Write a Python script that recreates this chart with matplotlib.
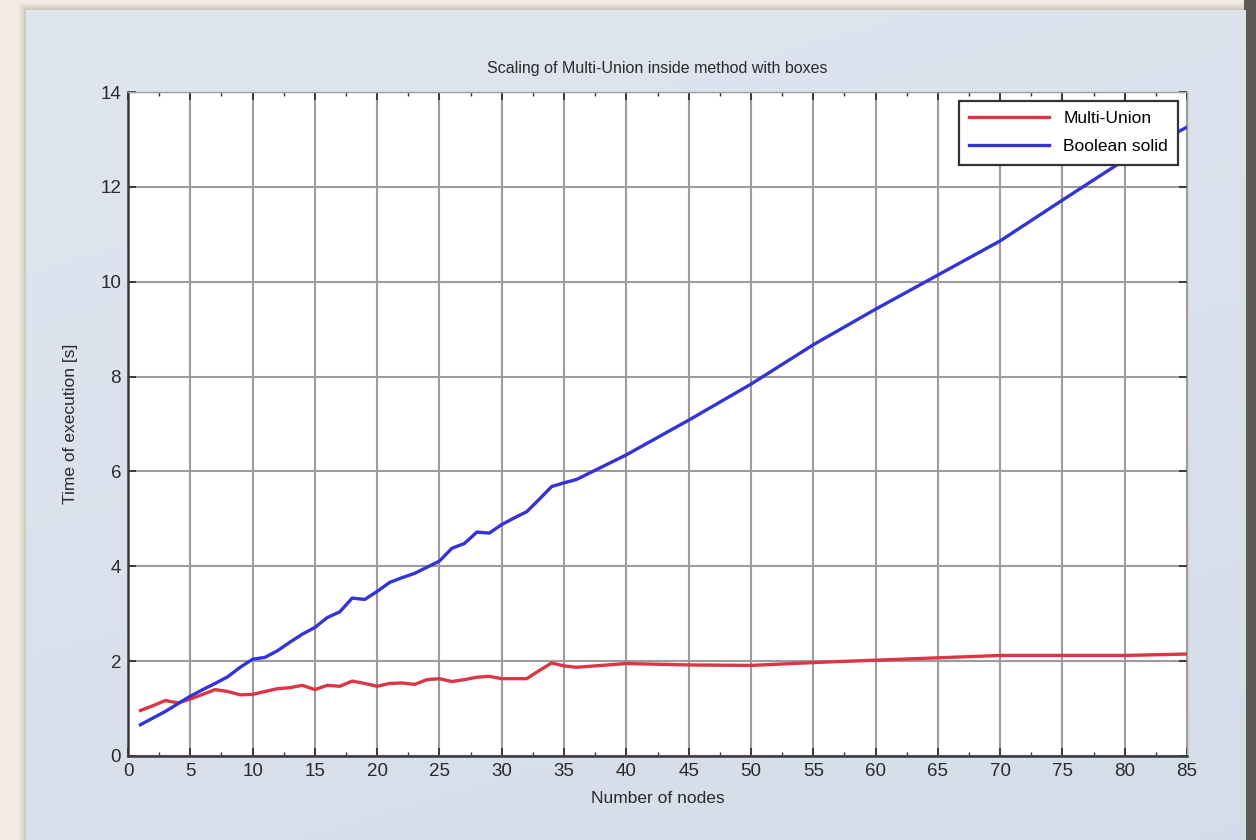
import numpy as np
import matplotlib
matplotlib.use("Agg")
import matplotlib.pyplot as plt
from matplotlib.ticker import MultipleLocator

# Benchmark timings
nodes = [1, 2, 3, 4, 5, 6, 7, 8, 9, 10, 11, 12, 13, 14, 15, 16, 17, 18, 19, 20,
         21, 22, 23, 24, 25, 26, 27, 28, 29, 30, 31, 32, 33, 34, 35, 36,
         40, 45, 50, 55, 60, 65, 70, 75, 80, 85]
multi_union = [0.96, 1.06, 1.17, 1.12, 1.20, 1.30, 1.40, 1.36, 1.29, 1.30,
               1.36, 1.42, 1.44, 1.49, 1.40, 1.49, 1.47, 1.58, 1.53, 1.47,
               1.53, 1.54, 1.51, 1.61, 1.63, 1.57, 1.61, 1.66, 1.68, 1.63,
               1.63, 1.63, 1.80, 1.96, 1.90, 1.87,
               1.95, 1.92, 1.91, 1.97, 2.02, 2.07, 2.12, 2.12, 2.12, 2.15]
boolean_solid = [0.66, 0.80, 0.94, 1.10, 1.26, 1.40, 1.53, 1.67, 1.87, 2.04,
                 2.08, 2.22, 2.40, 2.57, 2.71, 2.92, 3.04, 3.33, 3.30, 3.47,
                 3.66, 3.76, 3.85, 3.98, 4.11, 4.38, 4.48, 4.72, 4.70, 4.88,
                 5.02, 5.15, 5.41, 5.68, 5.76, 5.83,
                 6.35, 7.08, 7.84, 8.67, 9.42, 10.14, 10.86, 11.72, 12.57, 13.26]
series_names = ["Multi-Union", "Boolean solid"]
x_ticks = list(range(0, 90, 5))
y_ticks = list(range(0, 16, 2))

W, H = 1256, 840
fig = plt.figure(figsize=(W / 100, H / 100), dpi=100)
fig.patch.set_facecolor("#f2ece2")

# Backdrop: slide-like panel with soft shadow
bg = fig.add_axes([0, 0, 1, 1], zorder=-10)
bg.set_xlim(0, W)
bg.set_ylim(H, 0)
bg.axis("off")
bg.set_facecolor("none")

for i, a in enumerate(np.linspace(0.02, 0.10, 8)):
    pad = 8 - i
    bg.add_patch(plt.Rectangle((26 - pad, 10 - pad), 1222 + 2 * pad, 900,
                               facecolor=(0.35, 0.3, 0.25, a * 0.5), edgecolor="none"))
bg.add_patch(plt.Rectangle((1244, 0), 12, H, facecolor="#5e5a56", edgecolor="none"))

gy, gx = np.mgrid[0:1:200j, 0:1:200j]
top = np.array([0.878, 0.902, 0.940])
bot = np.array([0.835, 0.866, 0.915])
t = (gy * 0.7 + gx * 0.3)[..., None]
grad = top * (1 - t) + bot * t
bg.imshow(grad, extent=(26, 1246, 845, 10), aspect="auto", zorder=1)

# Main axes
ax = fig.add_axes([128 / W, 1 - 756 / H, (1187 - 128) / W, (756 - 92) / H])
ax.set_facecolor("white")

font = "Liberation Sans"
ax.plot(nodes, multi_union, color="#dc3545", lw=2.4, label=series_names[0], zorder=3)
ax.plot(nodes, boolean_solid, color="#3434d6", lw=2.4, label=series_names[1], zorder=3)

ax.set_xlim(0, 85)
ax.set_ylim(0, 14)
ax.set_xticks(x_ticks)
ax.set_yticks(y_ticks)
ax.xaxis.set_minor_locator(MultipleLocator(2.5))
ax.tick_params(which="both", direction="in", top=True, right=True,
               colors="#333333", labelcolor="#2a2a2a", labelsize=13.5, pad=5)
ax.tick_params(which="major", length=6, width=1.3)
ax.tick_params(which="minor", length=3, width=1.0)
for lbl in ax.get_xticklabels() + ax.get_yticklabels():
    lbl.set_fontfamily(font)

ax.grid(True, which="major", color="#9c9c9c", lw=1.5, ls="-")
ax.set_axisbelow(True)
for side in ["top", "right"]:
    ax.spines[side].set_color("#a0a0a0")
    ax.spines[side].set_linewidth(1.0)
for side in ["left", "bottom"]:
    ax.spines[side].set_color("#3a3a3a")
    ax.spines[side].set_linewidth(1.8)

ax.set_title("Scaling of Multi-Union inside method with boxes", fontsize=11.5,
             family=font, color="#2a2a2a", pad=14)
ax.set_xlabel("Number of nodes", fontsize=12.5, family=font, color="#2a2a2a", labelpad=8)
ax.set_ylabel("Time of execution [s]", fontsize=12.5, family=font, color="#2a2a2a", labelpad=16)

leg = ax.legend(loc="upper right", fancybox=False, framealpha=1, edgecolor="#333333",
                prop={"family": font, "size": 12.5}, handlelength=4.6,
                borderaxespad=0.5, borderpad=0.6, labelspacing=0.75, handletextpad=0.8)
leg.get_frame().set_linewidth(1.6)

fig.savefig("out.png", dpi=100)
